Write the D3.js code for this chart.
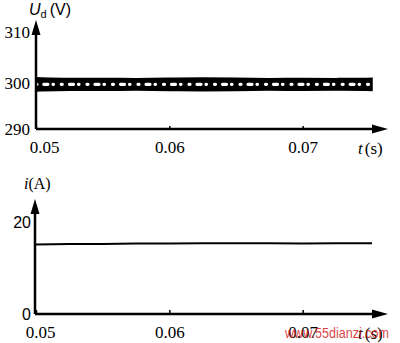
<!DOCTYPE html>
<html>
<head>
<meta charset="utf-8">
<script src="https://cdn.jsdelivr.net/npm/d3@7"></script>
<style>
  body { margin: 0; background: #fff; }
  svg { display: block; }
  .serif { font-family: "Liberation Serif", "DejaVu Serif", serif; }
  .sans { font-family: "Liberation Sans", Arial, sans-serif; }
</style>
</head>
<body>
<svg width="400" height="343"></svg>
<script>
// time samples (s)
var times = [0.05, 0.0525, 0.055, 0.0575, 0.06, 0.0625, 0.065, 0.0675, 0.07, 0.0725, 0.0752];
// Ud ripple envelope (V)
var udUpper = [301.0, 300.8, 300.9, 300.8, 300.9, 301.0, 300.9, 300.8, 300.9, 300.8, 300.9];
var udLower = [298.2, 298.4, 298.3, 298.4, 298.3, 298.2, 298.3, 298.4, 298.3, 298.4, 298.3];
// load current (A)
var current = [15.1, 15.2, 15.2, 15.3, 15.3, 15.4, 15.4, 15.4, 15.3, 15.4, 15.4];

var xTicks = [0.05, 0.06, 0.07],
    udTicks = [290, 300, 310],
    iTicks = [0, 20];

var svg = d3.select("svg");

var x = d3.scaleLinear().domain([0.05, 0.0764]).range([36, 388]);
var yU = d3.scaleLinear().domain([290, 310]).range([129, 36]);
var yI = d3.scaleLinear().domain([0, 20]).range([314, 222]);

function arrowAxes(g, x0, y0, yTop, xEnd) {
  g.append("path")
    .attr("d", "M" + x0 + "," + y0 + "V" + (yTop + 10) + "M" + x0 + "," + y0 + "H" + (xEnd - 12))
    .attr("fill", "none").attr("stroke", "#000").attr("stroke-width", 2.5);
  // arrow heads
  g.append("path")
    .attr("d", "M" + x0 + "," + yTop + "L" + (x0 - 4.5) + "," + (yTop + 15) + "L" + (x0 + 4.5) + "," + (yTop + 15) + "Z")
    .attr("fill", "#000");
  g.append("path")
    .attr("d", "M" + xEnd + "," + y0 + "L" + (xEnd - 16) + "," + (y0 - 4.5) + "L" + (xEnd - 16) + "," + (y0 + 4.5) + "Z")
    .attr("fill", "#000");
}

// ---- top panel: Ud
var topG = svg.append("g");

var band = d3.area()
    .x(function(d, i) { return x(times[i]); })
    .y0(function(d, i) { return yU(udLower[i]); })
    .y1(function(d, i) { return yU(udUpper[i]); })
    .curve(d3.curveBasis);

topG.append("path").datum(times)
    .attr("d", band)
    .attr("fill", "#000").attr("stroke", "#000").attr("stroke-width", 1.5);

var mid = d3.line()
    .x(function(d, i) { return x(times[i]); })
    .y(function(d, i) { return yU((udLower[i] + udUpper[i]) / 2); })
    .curve(d3.curveBasis);

topG.append("path").datum(times)
    .attr("d", mid)
    .attr("fill", "none").attr("stroke", "#fff").attr("stroke-width", 3.2)
    .attr("stroke-linecap", "round")
    .attr("stroke-dasharray", "1,7,4,5,0.5,8");

arrowAxes(topG, 36, yU(290), 20, 388);

topG.append("g")
    .attr("class", "serif")
    .attr("transform", "translate(36,0)")
    .call(d3.axisLeft(yU).tickValues(udTicks).tickSize(0).tickPadding(6).tickFormat(d3.format("d")))
    .call(function(g) { g.select(".domain").remove(); })
    .selectAll("text").attr("font-size", 17).attr("fill", "#000")
    .attr("dy", function(d) { return d === 310 ? "0.1em" : "0.35em"; });

topG.append("g")
    .attr("class", "serif")
    .attr("transform", "translate(0," + yU(290) + ")")
    .call(d3.axisBottom(x).tickValues(xTicks).tickSize(-3).tickPadding(12).tickFormat(d3.format(".2f")))
    .call(function(g) { g.select(".domain").remove(); })
    .call(function(g) { g.selectAll("line").attr("stroke-width", 1.5); })
    .selectAll("text").attr("font-size", 17).attr("fill", "#000")
    .attr("dx", function(d) { return d === 0.05 ? 8 : 0; });

var ut = topG.append("text").attr("class", "sans").attr("x", 29).attr("y", 15).attr("font-size", 16);
ut.append("tspan").attr("font-style", "italic").text("U");
ut.append("tspan").attr("font-size", 11).attr("dy", 3).text("d");
ut.append("tspan").attr("dy", -3).attr("dx", 3).text("(V)");

var tt = topG.append("text").attr("class", "serif").attr("x", 358).attr("y", 154).attr("font-size", 17);
tt.append("tspan").attr("font-style", "italic").text("t");
tt.append("tspan").attr("dx", 2).text("(s)");

// ---- bottom panel: current
var bot = svg.append("g");

bot.append("path").datum(current)
    .attr("d", d3.line()
      .x(function(d, i) { return x(times[i]); })
      .y(function(d) { return yI(d); }))
    .attr("fill", "none").attr("stroke", "#000").attr("stroke-width", 2);

arrowAxes(bot, 35, yI(0), 199, 388);

bot.append("g")
    .attr("class", "sans")
    .attr("transform", "translate(35,0)")
    .call(d3.axisLeft(yI).tickValues(iTicks).tickSize(0).tickPadding(4))
    .call(function(g) { g.select(".domain").remove(); })
    .selectAll("text").attr("font-size", 16).attr("fill", "#000");

bot.append("g")
    .attr("class", "serif")
    .attr("transform", "translate(0," + yI(0) + ")")
    .call(d3.axisBottom(x).tickValues(xTicks).tickSize(-4).tickPadding(12).tickFormat(d3.format(".2f")))
    .call(function(g) { g.select(".domain").remove(); })
    .call(function(g) { g.selectAll("line").attr("stroke-width", 1.5); })
    .selectAll("text").attr("font-size", 17).attr("fill", "#000")
    .attr("dx", function(d) { return d === 0.05 ? 4 : 0; });

var it = bot.append("text").attr("class", "serif").attr("x", 24).attr("y", 189).attr("font-size", 16);
it.append("tspan").attr("font-style", "italic").text("i");
it.append("tspan").text("(A)");

var tb = bot.append("text").attr("class", "serif").attr("x", 358).attr("y", 339).attr("font-size", 17);
tb.append("tspan").attr("font-style", "italic").text("t");
tb.append("tspan").attr("dx", 2).text("(s)");

// watermark
svg.append("text").attr("class", "sans")
    .attr("x", 285).attr("y", 338).attr("font-size", 14)
    .attr("textLength", 104).attr("lengthAdjust", "spacingAndGlyphs")
    .attr("fill", "#d42020").attr("fill-opacity", 0.85)
    .text("www.55dianzi.com");
</script>
</body>
</html>
